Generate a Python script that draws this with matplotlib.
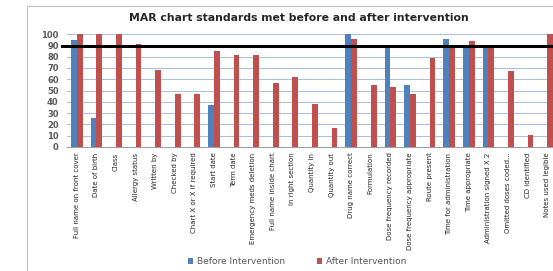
import numpy as np
import matplotlib.pyplot as plt
from matplotlib.patches import Rectangle

categories = ["Full name on front cover", "Date of birth", "Class", "Allergy status",
              "Written by", "Checked by", "Chart X or X if required", "Start date",
              "Term date", "Emergency meds deletion", "Full name inside chart",
              "In right section", "Quantity in", "Quantity out", "Drug name correct",
              "Formulation", "Dose frequency recorded", "Dose frequency appropriate",
              "Route present", "Time for administration", "Time appropriate",
              "Administration signed X 2", "Omitted doses coded...", "CD identified",
              "Notes used legible"]
before = [95, 26, 0, 0, 0, 0, 0, 37, 0, 0, 0, 0, 0, 0, 100, 0, 88, 55, 0, 96, 88, 88, 0, 0, 0]
after = [100, 100, 100, 91, 68, 47, 47, 85, 81, 81, 57, 62, 38, 17, 96, 55, 53, 47, 79, 88, 94, 88, 67, 11, 100]
standard = 89

blue = "#4F81BD"
red = "#C0504D"

fig = plt.figure(figsize=(5.53, 2.71), dpi=100)
fig.patches.append(Rectangle((27 / 553, -0.1), 1.1, 1 - 6 / 271 + 0.1,
                             transform=fig.transFigure, fill=False,
                             edgecolor="#BFBFBF", linewidth=0.8))

ax = fig.add_axes([67 / 553, 1 - 147 / 271, 490 / 553, 113 / 271])
x = np.arange(len(categories))
w = 0.3
ax.bar(x - w / 2, before, w, color=blue, label="Before Intervention", zorder=3)
ax.bar(x + w / 2, after, w, color=red, label="After Intervention", zorder=3)
ax.axhline(standard, xmin=-0.01, xmax=1, color="black", linewidth=2.2,
           clip_on=False, zorder=4)

ax.set_xlim(-0.5, len(categories) - 0.5)
ax.set_ylim(0, 100)
ax.set_yticks(range(0, 101, 10))
ax.grid(axis="y", color="#A7C0E0", linewidth=0.7, zorder=0)
for s in ["top", "right", "left"]:
    ax.spines[s].set_visible(False)
ax.spines["bottom"].set_color("#A0A0A0")
ax.tick_params(axis="y", length=0, labelsize=6, labelcolor="#595959", pad=6)
ax.tick_params(axis="x", length=0, pad=4)
ax.set_xticks(x)
ax.set_xticklabels(categories, rotation=90, fontsize=5, color="#262626",
                   family=["Liberation Sans Narrow", "DejaVu Sans"])
for t in ax.get_yticklabels():
    t.set_fontweight("bold")

fig.text(0.54, 1 - 18 / 271, "MAR chart standards met before and after intervention",
         ha="center", va="center", fontsize=7.8, fontweight="bold", color="#262626")

fig.legend(loc="center", bbox_to_anchor=(297 / 553, 1 - 262 / 271), ncol=2,
           frameon=False, fontsize=6.5, handlelength=0.6, handleheight=0.6,
           columnspacing=3.5, handletextpad=0.4, labelcolor="#595959")

fig.savefig("out.png", dpi=100)
